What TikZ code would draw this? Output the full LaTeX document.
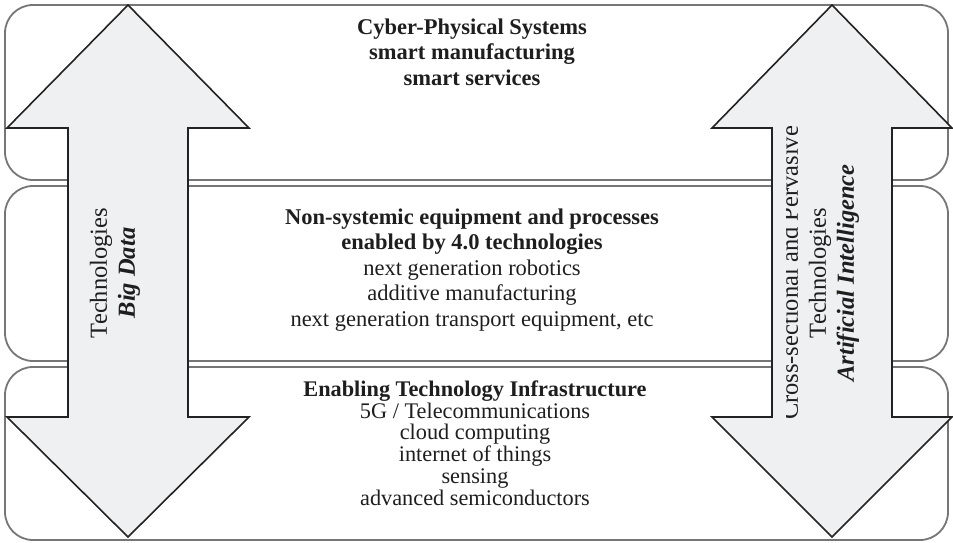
\documentclass[tikz,border=0pt]{standalone}
\usepackage{fontspec}
\setmainfont{Liberation Serif}
\definecolor{boxgray}{HTML}{767676}
\definecolor{arrowfill}{HTML}{EFF0F2}
\definecolor{arrowline}{HTML}{222222}
\definecolor{txt}{HTML}{1E1E1E}
\begin{document}
\begin{tikzpicture}[x=1pt,y=-1pt,
  layer/.style={draw=boxgray, line width=1.8pt, rounded corners=28pt},
  bigarrow/.style={draw=arrowline, line width=1.6pt, fill=arrowfill, line join=miter},
  bodytext/.style={inner sep=0pt, align=center, text=txt, font=\fontsize{22.5}{25.5}\selectfont},
  bottext/.style={inner sep=0pt, align=center, text=txt, font=\fontsize{22.3}{21.8}\selectfont},
  sidetext/.style={inner sep=0pt, align=center, text=txt, rotate=90, font=\fontsize{24.5}{28}\selectfont}]
\useasboundingbox (0,0) rectangle (953,542);
% layers
\draw[layer] (5,5) rectangle (948,180);
\draw[layer] (5,186) rectangle (948,361);
\draw[layer] (5,367) rectangle (948,540);
% arrows
\draw[bigarrow] (128,5) -- (249,128) -- (188,128) -- (188,417) -- (249,417) -- (128,537)
  -- (7,417) -- (68,417) -- (68,128) -- (7,128) -- cycle;
\draw[bigarrow] (832,5) -- (952,128) -- (892,128) -- (892,417) -- (952,417) -- (832,537)
  -- (712,417) -- (772,417) -- (772,128) -- (712,128) -- cycle;
% layer texts
\node[bodytext] (toptext) at (472,52) {\textbf{Cyber-Physical Systems}\\ \textbf{smart manufacturing}\\ \textbf{smart services}};
\node[bodytext] (midtext) at (472,270) {\textbf{Non-systemic equipment and processes}\\ \textbf{enabled by 4.0 technologies}\\ next generation robotics\\ additive manufacturing\\ next generation transport equipment, etc};
\node[bottext] (bottext) at (475,443) {\textbf{Enabling Technology Infrastructure}\\ 5G / Telecommunications\\ cloud computing\\ internet of things\\ sensing\\ advanced semiconductors};
% arrow texts
\node[sidetext] (lefttext) at (115,273) {Technologies\\ \textbf{\textit{Big Data}}};
\begin{scope}
\clip (786,122) rectangle (893,422);
\node[sidetext] (righttext) at (820,273) {Cross-sectional and Pervasive\\ Technologies\\ \textbf{\textit{Artificial Intelligence}}};
\end{scope}
\end{tikzpicture}
\end{document}
